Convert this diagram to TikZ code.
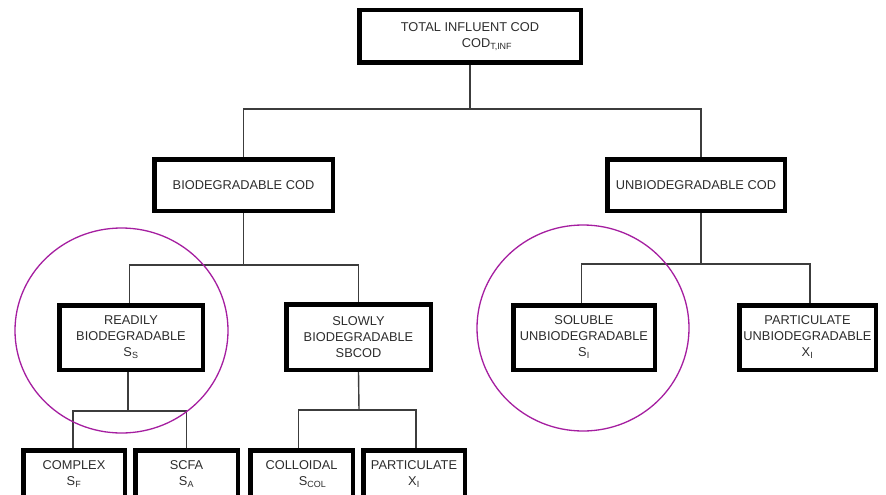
\documentclass[tikz,border=0pt]{standalone}
\usepackage{fontspec}
\setmainfont{Liberation Sans}
\definecolor{textgray}{RGB}{45,45,45}
\definecolor{linegray}{RGB}{60,60,60}
\definecolor{ringpurple}{RGB}{165,30,160}
\begin{document}
\begin{tikzpicture}[x=1pt,y=-1pt,
  box/.style={draw=black, line width=4.5pt, fill=white, align=center,
    text=textgray, font=\fontsize{12.8}{16}\selectfont, inner sep=0pt},
  link/.style={draw=linegray, line width=1.4pt},
  ring/.style={draw=ringpurple, line width=1.3pt}]

\clip (0,0) rectangle (886,495);
\fill[white] (0,0) rectangle (886,495);

% level 0
\node[box, minimum width=221.5pt, minimum height=52.5pt] (total) at (470,36.5)
  {TOTAL INFLUENT COD\\\hspace*{34pt}COD\textsubscript{T,INF}};

% level 1
\node[box, minimum width=178.5pt, minimum height=51.5pt] (bio) at (243.5,185)
  {BIODEGRADABLE COD};
\node[box, minimum width=177.5pt, minimum height=51.5pt] (unbio) at (696,185)
  {UNBIODEGRADABLE COD};

% level 2
\node[box, minimum width=143.5pt, minimum height=64.5pt] (readily) at (131,337.5)
  {READILY\\BIODEGRADABLE\\S\textsubscript{S}};
\node[box, minimum width=144.5pt, minimum height=65.5pt] (slowly) at (358.5,337)
  {SLOWLY\\BIODEGRADABLE\\SBCOD};
\node[box, minimum width=141.5pt, minimum height=64.5pt] (soluble) at (584,337.5)
  {SOLUBLE\\UNBIODEGRADABLE\\S\textsubscript{I}};
\node[box, minimum width=136.5pt, minimum height=64.5pt] (partun) at (807.5,337.5)
  {PARTICULATE\\UNBIODEGRADABLE\\X\textsubscript{I}};

% level 3 (runs off the lower edge)
\node[box, minimum width=101.5pt, minimum height=47.5pt] (complex) at (74,474)
  {COMPLEX\\S\textsubscript{F}};
\node[box, minimum width=102.5pt, minimum height=47.5pt] (scfa) at (186.5,474)
  {SCFA\\S\textsubscript{A}};
\node[box, minimum width=102.5pt, minimum height=47.5pt] (colloid) at (301.5,474)
  {COLLOIDAL\\\hspace*{22pt}S\textsubscript{COL}};
\node[box, minimum width=101.5pt, minimum height=47.5pt] (partic) at (414,474)
  {PARTICULATE\\X\textsubscript{I}};

% junctions of the tree
\coordinate (j0) at (470,109);
\coordinate (j1) at (243.5,265);
\coordinate (j2) at (701,264);
\coordinate (j3) at (128,411);
\coordinate (j4) at (359,410);

% connectors
\draw[link] (total.south) -- (j0);
\draw[link] (bio.north) |- (j0) -| ([xshift=5pt]unbio.north);

\draw[link] (bio.south) -- (j1);
\draw[link] ([xshift=-1.5pt]readily.north) |- (j1) -| (slowly.north);

\draw[link] ([xshift=5pt]unbio.south) -- (j2);
\draw[link] ([xshift=-2.5pt]soluble.north) |- (j2) -| ([xshift=2.5pt]partun.north);

\draw[link] ([xshift=-3pt]readily.south) -- (j3);
\draw[link] ([xshift=-1pt]complex.north) |- (j3) -| (scfa.north);

\draw[link] (slowly.south) -- (j4);
\draw[link] ([xshift=-3pt]colloid.north) |- (j4) -| ([xshift=2pt]partic.north);

% highlight rings
\draw[ring] (121.5,330.5) ellipse [x radius=106.5, y radius=102.5];
\draw[ring] (583,328) ellipse [x radius=106, y radius=103];

\end{tikzpicture}
\end{document}
